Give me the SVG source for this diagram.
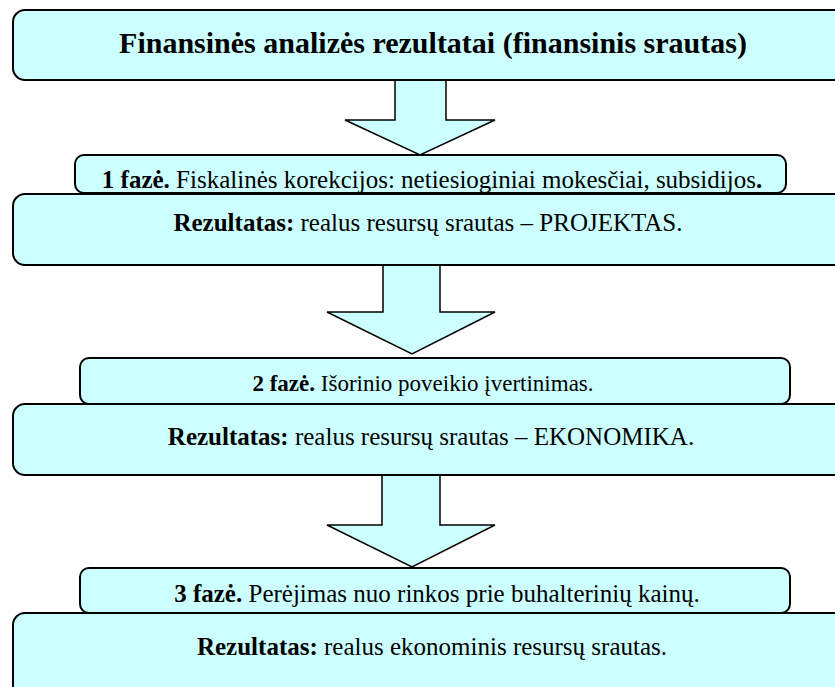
<svg xmlns="http://www.w3.org/2000/svg" width="835" height="687" viewBox="0 0 835 687">
<style>
.box{fill:#CCFFFF;stroke:#000;stroke-width:2}
.arr{fill:#CCFFFF;stroke:#000;stroke-width:1.5;stroke-linejoin:miter}
text{font-family:"Liberation Serif","Times New Roman",serif;fill:#000;text-anchor:middle;font-size:25px}
.b{font-weight:bold}
.t{font-size:30px;font-weight:bold}
.s{font-size:23px}
</style>
<rect width="835" height="687" fill="#fff"/>
<g id="connectors">
<polygon class="arr" points="395,80 446,80 446,120 495,120 420,155 345,120 395,120 395,80"/>
<polygon class="arr" points="383,265 440,265 440,312 495,312 412,354 327,312 383,312 383,265"/>
<polygon class="arr" points="382,475 440,475 440,525 495,525 412,567 327,525 382,525 382,475"/>
</g>
<g id="title">
<rect class="box" x="13" y="10" width="860" height="70" rx="12"/>
<text class="t" x="433" y="53">Finansinės analizės rezultatai (finansinis srautas)</text>
</g>
<g id="result1">
<rect class="box" x="13" y="194" width="860" height="71" rx="12"/>
<text x="428" y="231"><tspan class="b">Rezultatas:</tspan> realus resursų srautas – PROJEKTAS.</text>
</g>
<g id="phase1">
<rect class="box" x="75" y="155" width="711" height="38" rx="9"/>
<text x="432" y="188"><tspan class="b">1 fazė.</tspan> Fiskalinės korekcijos: netiesioginiai mokesčiai, subsidijos<tspan class="b">.</tspan></text>
</g>
<g id="result2">
<rect class="box" x="13" y="404" width="860" height="71" rx="12"/>
<text x="431" y="445"><tspan class="b">Rezultatas:</tspan> realus resursų srautas – EKONOMIKA.</text>
</g>
<g id="phase2">
<rect class="box" x="80" y="358" width="710" height="46" rx="9"/>
<text class="s" x="423" y="391"><tspan class="b">2 fazė.</tspan> Išorinio poveikio įvertinimas.</text>
</g>
<g id="result3">
<rect class="box" x="13" y="613" width="860" height="100" rx="12"/>
<text x="432" y="655"><tspan class="b">Rezultatas:</tspan> realus ekonominis resursų srautas.</text>
</g>
<g id="phase3">
<rect class="box" x="80" y="568" width="710" height="45" rx="9"/>
<text x="437" y="602"><tspan class="b">3 fazė.</tspan> Perėjimas nuo rinkos prie buhalterinių kainų.</text>
</g>
</svg>
